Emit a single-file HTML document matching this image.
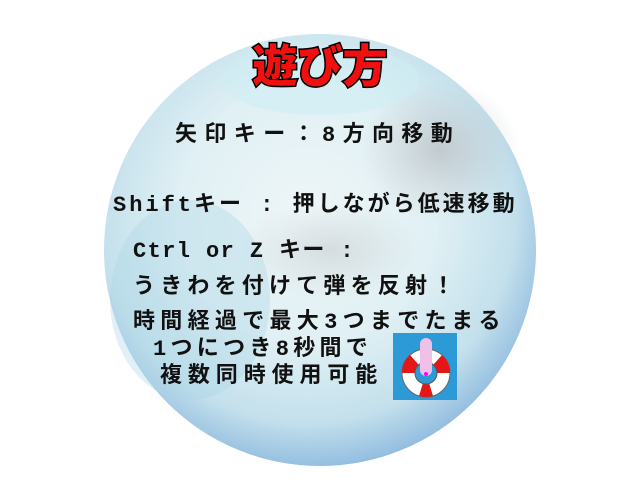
<!DOCTYPE html>
<html><head><meta charset="utf-8"><style>
body{margin:0;width:640px;height:480px;background:#fff;overflow:hidden;position:relative;font-family:"Liberation Sans","Noto Sans CJK JP",sans-serif}
.t{position:absolute;white-space:nowrap;font-size:22px;font-weight:bold;color:#111;font-family:"Liberation Mono","Noto Sans CJK JP",monospace}
</style></head><body>
<svg width="640" height="480" style="position:absolute;left:0;top:0">
<defs>
<radialGradient id="g" cx="0.47" cy="0.42" r="0.6">
<stop offset="0" stop-color="#eef6f8"/><stop offset="0.5" stop-color="#e0f0f4"/><stop offset="0.8" stop-color="#c3e0ec"/><stop offset="1" stop-color="#8cb8de"/>
</radialGradient>
<radialGradient id="h" cx="0.5" cy="0.5" r="0.5"><stop offset="0" stop-color="#b8bcc0" stop-opacity="0.7"/><stop offset="1" stop-color="#c0c4c8" stop-opacity="0"/></radialGradient>
</defs>
<circle cx="320" cy="250" r="216" fill="url(#g)"/>
<ellipse cx="440" cy="150" rx="80" ry="70" fill="url(#h)"/>
<ellipse cx="330" cy="250" rx="90" ry="50" fill="url(#h)" opacity="0.6"/>
<ellipse cx="190" cy="300" rx="80" ry="100" fill="#a9d3e6" opacity="0.35"/>
<ellipse cx="320" cy="80" rx="100" ry="35" fill="#cfeef4" opacity="0.6"/>
</svg>
<div style="position:absolute;left:0;width:640px;top:30px;text-align:center;font-size:45px;font-weight:900;color:#f01010;-webkit-text-stroke:3px #000;paint-order:stroke fill;font-family:'Noto Sans CJK JP',sans-serif">遊び方</div>
<div class="t" style="left:175px;top:116px;letter-spacing:7.4px">矢印キー：8方向移動</div>
<div class="t" style="left:113px;top:186px;letter-spacing:3px">Shiftキー : 押しながら低速移動</div>
<div class="t" style="left:133px;top:232px;letter-spacing:1.4px">Ctrl or Z キー :</div>
<div class="t" style="left:133px;top:268px;letter-spacing:5.2px">うきわを付けて弾を反射！</div>
<div class="t" style="left:133px;top:303px;letter-spacing:5.3px">時間経過で最大3つまでたまる</div>
<div class="t" style="left:153px;top:330px;letter-spacing:4.3px">1つにつき8秒間で</div>
<div class="t" style="left:160px;top:357px;letter-spacing:5.9px">複数同時使用可能</div>
<svg width="64" height="67" style="position:absolute;left:393px;top:333px">
<rect width="64" height="67" fill="#2d9ad8"/>
<circle cx="33" cy="40" r="24" fill="#fff" stroke="#666"/>
<path d="M33 40 L9 40 A24 24 0 0 1 17 22 Z M33 40 L49 22 A24 24 0 0 1 57 40 Z M33 40 L26 63 A24 24 0 0 0 40 63 Z" fill="#e51616"/>
<circle cx="33" cy="40" r="11" fill="#2d9ad8" stroke="#555"/>
<rect x="27" y="5" width="12" height="38" rx="6" fill="#f0c0e8"/>
<circle cx="33" cy="41" r="2" fill="#f0f"/>
</svg>
</body></html>
